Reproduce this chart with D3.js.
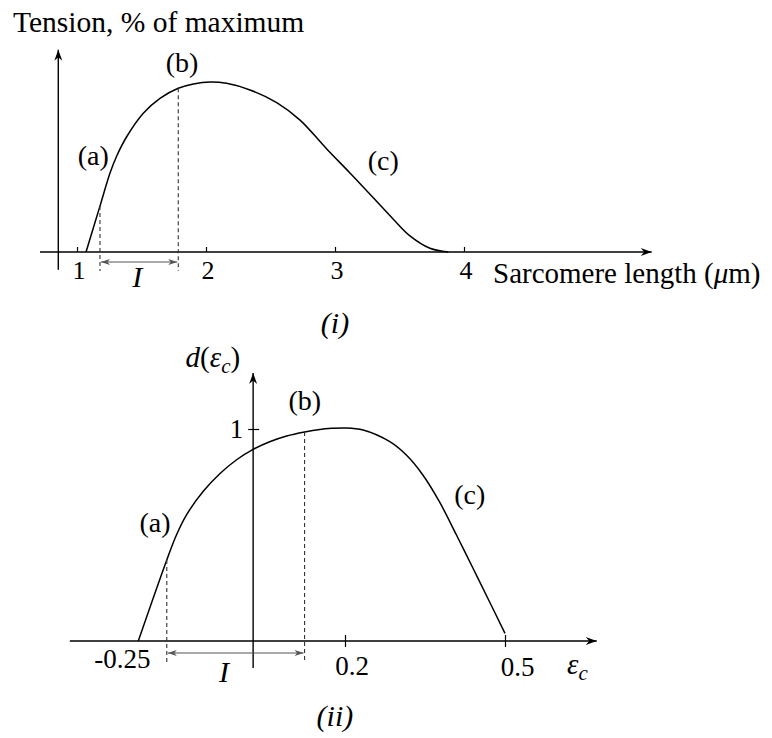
<!DOCTYPE html>
<html>
<head>
<meta charset="utf-8">
<script src="https://cdn.jsdelivr.net/npm/d3@7"></script>
<style>
body { margin: 0; background: #fff; }
svg text { font-family: "Liberation Serif", "DejaVu Serif", serif; fill: #000; }
</style>
</head>
<body>
<div id="viz"></div>
<script>
// (i) tension vs sarcomere length
var sarcLength = [1.07, 1.178, 1.256, 1.308, 1.385, 1.514, 1.643, 1.785, 1.902, 2.031, 2.160,
                  2.341, 2.548, 2.729, 2.936, 3.116, 3.297, 3.452, 3.581, 3.736, 3.878];
var tension = [0, 27, 46.5, 56.5, 67.8, 81.6, 90.4, 96.3, 98.8, 100, 99.2,
               95.3, 87.9, 77.6, 60.6, 46.5, 31.9, 19.3, 9.5, 2.2, 0];
var lengthTicks = [1, 2, 3, 4];
var lengthMarks = [1.178, 1.785]; // dashed lines at (a) and (b)

// (ii) d(eps_c) vs eps_c
var strain = [-0.25, -0.188, -0.167, -0.145, -0.109, -0.072, -0.036, 0, 0.036, 0.073, 0.112, 0.145,
              0.171, 0.2, 0.234, 0.284, 0.315, 0.346, 0.377, 0.409, 0.440, 0.471, 0.5];
var dStrain = [0, 0.382, 0.5, 0.595, 0.705, 0.79, 0.855, 0.904, 0.940, 0.967, 0.986, 0.998,
               1.003, 1.005, 0.995, 0.940, 0.877, 0.783, 0.657, 0.5, 0.343, 0.185, 0.036];
var strainTicks = [0.2, 0.5];
var strainTickLabels = ["-0.25", "0.2", "0.5"];
var strainLabelValues = [-0.25, 0.2, 0.5];
var strainMarks = [-0.188, 0.112];

var width = 772, height = 738;
var svg = d3.select('#viz').append('svg')
    .attr('width', width)
    .attr('height', height);

var defs = svg.append('defs');
defs.append('marker')
    .attr('id', 'arrow')
    .attr('viewBox', '-12 -6 14 12')
    .attr('refX', 0).attr('refY', 0)
    .attr('markerWidth', 14).attr('markerHeight', 12)
    .attr('markerUnits', 'userSpaceOnUse')
    .attr('orient', 'auto')
    .append('path')
    .attr('d', 'M0,0 L-11,-4 L-7.5,0 L-11,4 Z')
    .attr('fill', '#000');
defs.append('marker')
    .attr('id', 'small-arrow')
    .attr('viewBox', '-10 -5 12 10')
    .attr('refX', 0).attr('refY', 0)
    .attr('markerWidth', 12).attr('markerHeight', 10)
    .attr('markerUnits', 'userSpaceOnUse')
    .attr('orient', 'auto-start-reverse')
    .append('path')
    .attr('d', 'M0,0 L-9,-3 L-6.5,0 L-9,3 Z')
    .attr('fill', '#555');

function valueAt(xs, ys, v) {
    var i = xs.indexOf(v);
    if (i >= 0) return ys[i];
    var j = d3.bisectLeft(xs, v);
    var t = (v - xs[j - 1]) / (xs[j] - xs[j - 1]);
    return ys[j - 1] + t * (ys[j] - ys[j - 1]);
}

function drawPanel(g, p) {
    var x = p.x, y = p.y;
    // axes with arrowheads
    g.append('line')
        .attr('x1', x(p.xExtent[0])).attr('x2', x(p.xExtent[1]))
        .attr('y1', y(0)).attr('y2', y(0))
        .attr('stroke', '#000').attr('stroke-width', 1.4)
        .attr('marker-end', 'url(#arrow)');
    g.append('line')
        .attr('x1', x(p.yAxisAt)).attr('x2', x(p.yAxisAt))
        .attr('y1', y(p.yExtent[0])).attr('y2', y(p.yExtent[1]))
        .attr('stroke', '#000').attr('stroke-width', 1.4)
        .attr('marker-end', 'url(#arrow)');

    // the curve
    var line = d3.line()
        .x(function(d) { return x(d[0]); })
        .y(function(d) { return y(d[1]); })
        .curve(d3.curveCatmullRom.alpha(0.5));
    g.append('path')
        .datum(p.xs.map(function(v, i) { return [v, p.ys[i]]; }))
        .attr('fill', 'none')
        .attr('stroke', '#000')
        .attr('stroke-width', 1.5)
        .attr('d', line);

    // dashed verticals at (a), (b)
    p.marks.forEach(function(m) {
        g.append('line')
            .attr('x1', x(m)).attr('x2', x(m))
            .attr('y1', y(valueAt(p.xs, p.ys, m))).attr('y2', y(0) + p.dashBelow)
            .attr('stroke', '#333').attr('stroke-width', 1.1)
            .attr('stroke-dasharray', '4,3');
    });
    // the interval I
    g.append('line')
        .attr('x1', x(p.marks[0]) + 1).attr('x2', x(p.marks[1]) - 1)
        .attr('y1', y(0) + p.arrowBelow).attr('y2', y(0) + p.arrowBelow)
        .attr('stroke', '#555').attr('stroke-width', 1.2)
        .attr('marker-start', 'url(#small-arrow)')
        .attr('marker-end', 'url(#small-arrow)');

    // annotations
    p.notes.forEach(function(n) {
        g.append('text')
            .attr('x', x(n.x)).attr('y', y(n.y))
            .attr('text-anchor', 'middle')
            .style('font-size', (n.size || 28) + 'px')
            .style('font-style', n.italic ? 'italic' : 'normal')
            .text(n.text);
    });
}

// ---------- panel (i) ----------
var x1 = d3.scaleLinear().domain([1, 4]).range([77, 464]);
var y1 = d3.scaleLinear().domain([0, 100]).range([252, 82]);
var panelTop = svg.append('g');

drawPanel(panelTop, {
    x: x1, y: y1,
    xs: sarcLength, ys: tension,
    xExtent: [0.713, 5.455], yAxisAt: 0.855, yExtent: [-10.5, 119],
    marks: lengthMarks, dashBelow: 19, arrowBelow: 10,
    notes: [
        {text: '(a)', x: 1.126, y: 51},
        {text: '(b)', x: 1.814, y: 106},
        {text: '(c)', x: 3.374, y: 48},
        {text: 'I', x: 1.468, y: -20.4, italic: true, size: 30},
        {text: '(i)', x: 3.0, y: -47.6, italic: true, size: 30}
    ]
});

var gx1 = panelTop.append('g')
    .attr('transform', 'translate(0,' + y1(0) + ')')
    .call(d3.axisBottom(x1).tickValues(lengthTicks).tickSize(-5).tickPadding(9).tickFormat(d3.format('d')));
gx1.select('.domain').remove();
gx1.selectAll('.tick line').attr('stroke-width', 1.2);
gx1.selectAll('.tick text').style('font-size', '26px').attr('dx', 1.5);

panelTop.append('text')
    .attr('x', x1(4) + 29).attr('y', y1(0) + 31)
    .style('font-size', '29px')
    .html('Sarcomere length (<tspan font-style="italic">μ</tspan>m)');
panelTop.append('text')
    .attr('x', 13).attr('y', 32)
    .style('font-size', '29.5px')
    .text('Tension, % of maximum');

// ---------- panel (ii) ----------
var x2 = d3.scaleLinear().domain([-0.25, 0.2, 0.5]).range([138.3, 345, 505]);
var y2 = d3.scaleLinear().domain([0, 1]).range([641, 429]);
var panelBottom = svg.append('g');

drawPanel(panelBottom, {
    x: x2, y: y2,
    xs: strain, ys: dStrain,
    xExtent: [-0.399, 0.672], yAxisAt: 0, yExtent: [-0.127, 1.264],
    marks: strainMarks, dashBelow: 22, arrowBelow: 12,
    notes: [
        {text: '(a)', x: -0.2136, y: 0.514},
        {text: '(b)', x: 0.1126, y: 1.09},
        {text: '(c)', x: 0.434, y: 0.648},
        {text: 'I', x: -0.0634, y: -0.193, italic: true, size: 30},
        {text: '(ii)', x: 0.178, y: -0.40, italic: true, size: 30}
    ]
});

var gx2 = panelBottom.append('g')
    .attr('transform', 'translate(0,' + y2(0) + ')')
    .call(d3.axisBottom(x2).tickValues(strainTicks).tickSize(6).tickFormat(''));
gx2.select('.domain').remove();
gx2.selectAll('.tick line').attr('y1', -6).attr('stroke-width', 1.2);

var labelNudge = [[-16, 27], [7, 34], [12.5, 35]];
panelBottom.selectAll('.strain-label')
    .data(strainTickLabels)
    .enter().append('text')
    .attr('class', 'strain-label')
    .attr('x', function(d, i) { return x2(strainLabelValues[i]) + labelNudge[i][0]; })
    .attr('y', function(d, i) { return y2(0) + labelNudge[i][1]; })
    .attr('text-anchor', 'middle')
    .style('font-size', '27px')
    .text(function(d) { return d; });

var gy2 = panelBottom.append('g')
    .attr('transform', 'translate(' + x2(0) + ',0)')
    .call(d3.axisRight(y2).tickValues([1]).tickSize(6).tickFormat(''));
gy2.select('.domain').remove();
gy2.selectAll('.tick line').attr('x1', -5).attr('stroke-width', 1.2);
panelBottom.append('text')
    .attr('x', x2(0) - 10).attr('y', y2(1) + 9)
    .attr('text-anchor', 'end')
    .style('font-size', '27px')
    .text('1');

panelBottom.append('text')
    .attr('x', x2(0.5) + 62).attr('y', y2(0) + 33)
    .style('font-size', '29px')
    .html('<tspan font-style="italic">ε</tspan><tspan font-style="italic" font-size="21px" dy="6">c</tspan>');
panelBottom.append('text')
    .attr('x', x2(0) - 13).attr('y', y2(1.264) - 6)
    .attr('text-anchor', 'end')
    .style('font-size', '29px')
    .html('<tspan font-style="italic">d</tspan>(<tspan font-style="italic">ε</tspan><tspan font-style="italic" font-size="21px" dy="6">c</tspan><tspan dy="-6">)</tspan>');
</script>
</body>
</html>
